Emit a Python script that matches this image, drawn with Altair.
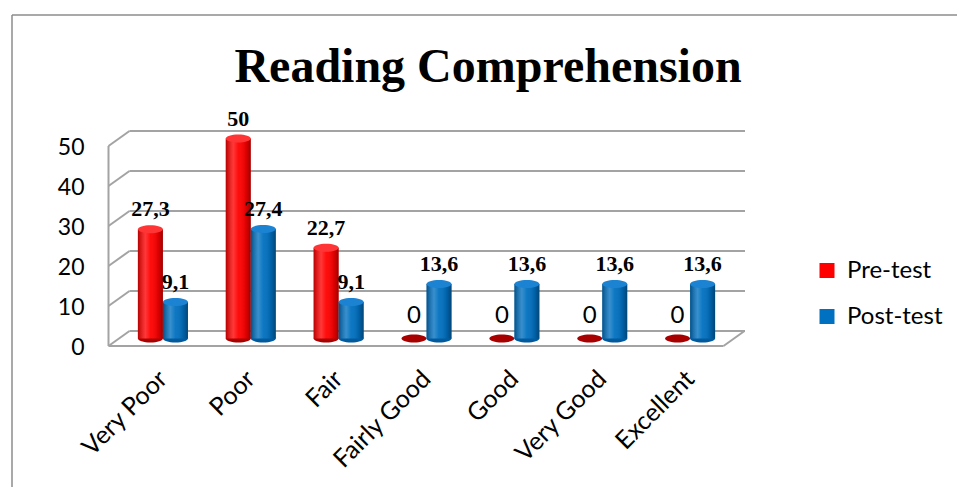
import altair as alt
import pandas as pd

TITLE = "Reading Comprehension"
CATEGORIES = ["Very Poor", "Poor", "Fair", "Fairly Good", "Good", "Very Good", "Excellent"]
SERIES = ["Pre-test", "Post-test"]
PRE_TEST = [27.3, 50, 22.7, 0, 0, 0, 0]
POST_TEST = [9.1, 27.4, 9.1, 13.6, 13.6, 13.6, 13.6]
Y_TICKS = [0, 10, 20, 30, 40, 50]
COLORS = ["#FF0000", "#0070C0"]


def fmt(v):
    return str(int(v)) if float(v).is_integer() else f"{v:.1f}".replace(".", ",")


rows = []
for c, a, b in zip(CATEGORIES, PRE_TEST, POST_TEST):
    rows.append(dict(category=c, series=SERIES[0], value=a, label=fmt(a)))
    rows.append(dict(category=c, series=SERIES[1], value=b, label=fmt(b)))
df = pd.DataFrame(rows)
ticks = pd.DataFrame({"tick": Y_TICKS})
ends = pd.DataFrame({"lo": [Y_TICKS[0]], "hi": [Y_TICKS[-1]]})
one = pd.DataFrame({"t": [TITLE]})

W, H = 615, 200
D = 10.5   # half depth (x)
DY = 7.5   # half depth (y)
GRID = "#a3a3a3"
GW = 2

SANS = "Lato"

x_enc = alt.X(
    "category:N",
    sort=CATEGORIES,
    scale=alt.Scale(paddingInner=0.43, paddingOuter=0.215),
    axis=alt.Axis(
        title=None, labelAngle=-45, labelAlign="right", labelBaseline="middle",
        labelFont=SANS, labelFontSize=25, labelColor="black", labelPadding=36,
        domain=False, ticks=False, grid=False, labelOverlap=False,
    ),
)
xo_enc = alt.XOffset("series:N", sort=SERIES, scale=alt.Scale(domain=SERIES))
Y_SCALE = alt.Scale(domain=[0, 50], nice=False)
Y_AXIS = alt.Axis(
    title=None, values=Y_TICKS, labelFont=SANS, labelFontSize=23,
    labelColor="black", labelPadding=35, labelOffset=9,
    labelOverlap=False, labelFlush=False,
    domain=False, ticks=False, grid=False,
)
y_enc = alt.Y("value:Q", scale=Y_SCALE, axis=Y_AXIS)

ELLIPSE = "M -1 0 A 1 0.32 0 1 0 1 0 A 1 0.32 0 1 0 -1 0 Z"

# --- 3D frame pieces ---
back_grid = alt.Chart(ticks).mark_rule(color=GRID, strokeWidth=GW, yOffset=-DY).encode(
    x=alt.value(D), x2=alt.value(W + D + 0.5), y=alt.Y("tick:Q", scale=Y_SCALE, axis=Y_AXIS)
)
side_diag = alt.Chart(ticks).mark_rule(
    color=GRID, strokeWidth=GW, yOffset=DY, y2Offset=-DY
).encode(x=alt.value(-D), x2=alt.value(D),
         y=alt.Y("tick:Q", scale=Y_SCALE, axis=Y_AXIS), y2=alt.Y2("tick"))
front_vert = alt.Chart(ends).mark_rule(
    color=GRID, strokeWidth=GW, yOffset=DY, y2Offset=DY
).encode(x=alt.value(-D), y=alt.Y("lo:Q", scale=Y_SCALE, axis=Y_AXIS), y2=alt.Y2("hi"))
floor_front = alt.Chart(ends).mark_rule(color=GRID, strokeWidth=GW, yOffset=DY).encode(
    x=alt.value(-D), x2=alt.value(W - D), y=alt.Y("lo:Q", scale=Y_SCALE, axis=Y_AXIS)
)
floor_diag = alt.Chart(ends).mark_rule(
    color=GRID, strokeWidth=GW, yOffset=DY, y2Offset=-DY
).encode(x=alt.value(W - D), x2=alt.value(W + D),
         y=alt.Y("lo:Q", scale=Y_SCALE, axis=Y_AXIS), y2=alt.Y2("lo"))

# outer frame
frame_left = alt.Chart(one).mark_rule(color="#8c8c8c", strokeWidth=1.5).encode(
    x=alt.value(-107), y=alt.value(-123.5), y2=alt.value(400)
)
frame_top = alt.Chart(one).mark_rule(color="#8c8c8c", strokeWidth=1.5).encode(
    x=alt.value(-107), x2=alt.value(900), y=alt.value(-123.5)
)

title = alt.Chart(one).mark_text(
    font="Liberation Serif", fontWeight="bold", fontSize=48, align="center",
    baseline="alphabetic", color="black",
).encode(text="t:N", x=alt.value(369), y=alt.value(-56.5))

# --- bars (cylinders) ---
bottom_ell = alt.Chart(df).transform_calculate(base="0").mark_point(
    shape=ELLIPSE, size=625, filled=True, opacity=1, strokeWidth=0
).encode(
    x=x_enc, xOffset=xo_enc, y=alt.Y("base:Q", scale=Y_SCALE, axis=Y_AXIS),
    fill=alt.condition("datum.series == 'Pre-test'", alt.value("#A80000"), alt.value("#005A9E")),
)

bars = alt.Chart(df).mark_bar().encode(
    x=x_enc, xOffset=xo_enc, y=y_enc,
    color=alt.Color(
        "series:N", sort=SERIES, scale=alt.Scale(domain=SERIES, range=COLORS),
        legend=alt.Legend(
            title=None, orient="none", legendX=696, legendY=120,
            symbolType="square", symbolSize=225, symbolStrokeWidth=0,
            labelFont=SANS, labelFontSize=24, labelColor="black",
            labelOffset=8, rowPadding=22,
        ),
    ),
)

shade = alt.Chart(df).transform_filter("datum.value > 0").mark_bar(
    color=alt.Gradient(
        gradient="linear", x1=0, x2=1, y1=0, y2=0,
        stops=[
            alt.GradientStop(offset=0, color="rgba(0,0,0,0.28)"),
            alt.GradientStop(offset=0.3, color="rgba(255,255,255,0.22)"),
            alt.GradientStop(offset=0.5, color="rgba(255,255,255,0.05)"),
            alt.GradientStop(offset=0.8, color="rgba(0,0,0,0.12)"),
            alt.GradientStop(offset=1, color="rgba(0,0,0,0.38)"),
        ],
    )
).encode(x=x_enc, xOffset=xo_enc, y=y_enc)

caps = alt.Chart(df).transform_filter("datum.value > 0").mark_point(
    shape=ELLIPSE, size=625, filled=True, opacity=1, strokeWidth=0
).encode(
    x=x_enc, xOffset=xo_enc, y=y_enc,
    fill=alt.condition("datum.series == 'Pre-test'", alt.value("#FF3434"), alt.value("#1C83D2")),
)

labels = alt.Chart(df).transform_filter("datum.value > 0").mark_text(
    font="Liberation Serif", fontWeight="bold", fontSize=22, baseline="alphabetic",
    dy=-13, color="black",
).encode(x=x_enc, xOffset=xo_enc, y=y_enc, text="label:N")

zero_labels = alt.Chart(df).transform_filter("datum.value == 0").mark_text(
    font=SANS, fontSize=24, baseline="alphabetic", dy=-16, color="black",
).encode(x=x_enc, xOffset=xo_enc, y=y_enc, text="label:N")

chart = alt.layer(
    frame_left, frame_top, title,
    back_grid, side_diag, front_vert, floor_front, floor_diag,
    bottom_ell, bars, shade, caps, labels, zero_labels,
).properties(
    width=W, height=H,
    autosize=alt.AutoSizeParams(type="none"),
    padding={"left": 119, "top": 138.5, "right": 223, "bottom": 148.5},
    background="white",
).configure_view(stroke=None).configure_axisY(
    labelOverlap=False, labelFlush=False
).configure_axis(labelOverlap=False)

chart.save("out.html", embed_options={"renderer": "svg", "actions": False})
